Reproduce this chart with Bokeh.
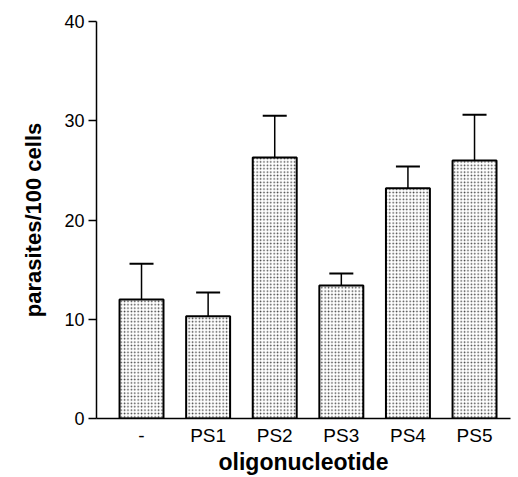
from bokeh.plotting import figure
from bokeh.models import Range1d, FixedTicker, Whisker, TeeHead, ColumnDataSource
from bokeh.embed import file_html
from bokeh.resources import INLINE

categories = ["-", "PS1", "PS2", "PS3", "PS4", "PS5"]
means = [12.0, 10.3, 26.3, 13.4, 23.2, 26.0]
errors = [3.6, 2.4, 4.2, 1.2, 2.2, 4.6]
y_ticks = [0, 10, 20, 30, 40]

xs = list(range(len(categories)))
upper = [m + e for m, e in zip(means, errors)]
src = ColumnDataSource(dict(x=xs, top=means, upper=upper))

p = figure(width=518, height=477, output_backend="svg", toolbar_location=None,
           x_range=Range1d(-0.676, 5.54), y_range=Range1d(0, 40),
           min_border_left=96, min_border_right=8, min_border_top=21, min_border_bottom=59)
p.outline_line_color = None
p.grid.visible = False
p.background_fill_color = "white"

p.vbar(x="x", top="top", width=0.66, bottom=0, source=src,
       fill_color="white", line_color="black", line_width=2,
       hatch_pattern="dot", hatch_color="#444444", hatch_scale=3.4, hatch_weight=1)

w = Whisker(base="x", lower="top", upper="upper", source=src,
            line_color="black", line_width=1.5,
            upper_head=TeeHead(size=24, line_color="black", line_width=2),
            lower_head=None, level="underlay")
p.add_layout(w)

font = "Liberation Sans"
p.yaxis.ticker = FixedTicker(ticks=y_ticks)
p.yaxis.minor_tick_line_color = None
p.yaxis.major_tick_in = 0
p.yaxis.major_tick_out = 8
p.yaxis.axis_line_width = 1.5
p.yaxis.major_tick_line_width = 1.5
p.yaxis.major_label_text_font = font
p.yaxis.major_label_text_font_size = "18px"
p.yaxis.major_label_text_color = "black"
p.yaxis.major_label_standoff = 4
p.yaxis.axis_label = "parasites/100 cells"
p.yaxis.axis_label_text_font = font
p.yaxis.axis_label_text_font_style = "bold"
p.yaxis.axis_label_text_font_size = "22px"
p.yaxis.axis_label_text_color = "black"
p.yaxis.axis_label_standoff = 15

p.xaxis.ticker = FixedTicker(ticks=xs)
p.xaxis.major_label_overrides = {i: c for i, c in zip(xs, categories)}
p.xaxis.minor_tick_line_color = None
p.xaxis.major_tick_line_color = None
p.xaxis.major_tick_out = 0
p.xaxis.major_tick_in = 0
p.xaxis.axis_line_width = 1.5
p.xaxis.major_label_text_font = font
p.xaxis.major_label_text_font_size = "19px"
p.xaxis.major_label_text_color = "black"
p.xaxis.major_label_standoff = 6
p.xaxis.axis_label = "oligonucleotide"
p.xaxis.axis_label_text_font = font
p.xaxis.axis_label_text_font_style = "bold"
p.xaxis.axis_label_text_font_size = "23px"
p.xaxis.axis_label_text_color = "black"
p.xaxis.axis_label_standoff = 0

open("out.html", "w").write(file_html(p, INLINE))
